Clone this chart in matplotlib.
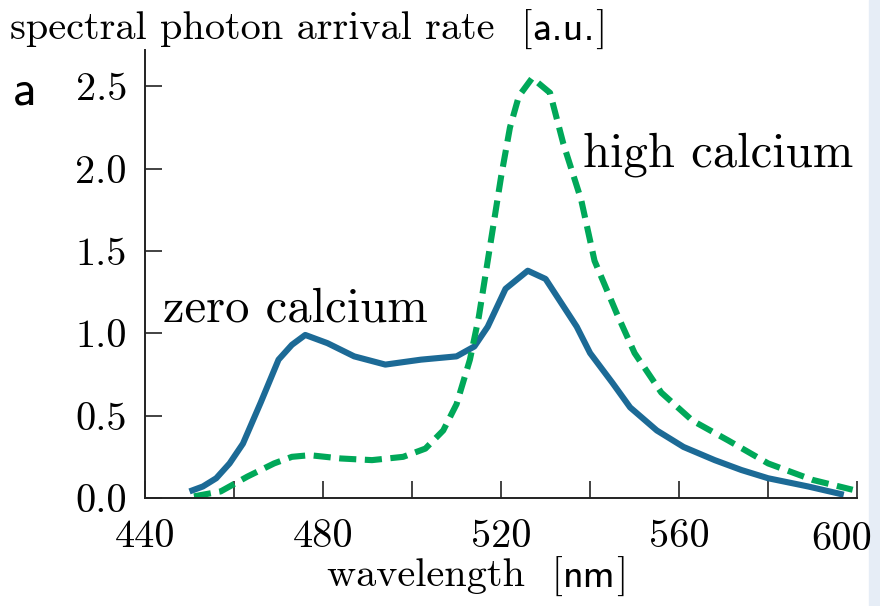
import matplotlib

matplotlib.use("Agg")
import matplotlib.pyplot as plt
from matplotlib.patches import Rectangle

# emission spectra, zero calcium (solid) and high calcium (dashed)
wl_zero = [450, 453, 456, 459, 462, 466, 470, 473, 476, 481, 487, 494, 502, 510,
           514, 517, 521, 526, 530, 537, 540, 545, 549, 555, 561, 568, 574, 580,
           589, 597]
rate_zero = [0.04, 0.07, 0.12, 0.21, 0.33, 0.58, 0.84, 0.93, 0.99, 0.94, 0.86,
             0.81, 0.84, 0.86, 0.92, 1.04, 1.27, 1.38, 1.33, 1.04, 0.88, 0.70,
             0.55, 0.41, 0.31, 0.23, 0.17, 0.12, 0.07, 0.02]

wl_high = [451, 457, 463, 469, 473, 477, 484, 491, 498, 503, 507, 510, 513, 515,
           517, 520, 522, 524, 527, 531, 534, 538, 541, 546, 550, 556, 563, 571,
           580, 590, 599]
rate_high = [0.01, 0.04, 0.13, 0.21, 0.25, 0.26, 0.24, 0.23, 0.25, 0.30, 0.41,
             0.57, 0.84, 1.10, 1.44, 1.95, 2.25, 2.44, 2.55, 2.46, 2.15, 1.81,
             1.44, 1.12, 0.88, 0.64, 0.47, 0.35, 0.21, 0.11, 0.05]

x_ticks = [440, 480, 520, 560, 600]
y_ticks = [0.0, 0.5, 1.0, 1.5, 2.0, 2.5]

plt.rcParams["font.family"] = "cmr10"
plt.rcParams["axes.formatter.use_mathtext"] = True


def chain_text(fig, x, y, parts, size):
    """Write (text, family) pieces one after another on a shared baseline."""
    renderer = fig.canvas.get_renderer()
    for s, fam in parts:
        t = fig.text(x, y, s, family=fam, fontsize=size, va="baseline")
        x = t.get_window_extent(renderer).x1 / fig.bbox.width


fig = plt.figure(figsize=(8.8, 6.06), dpi=100)
ax = fig.add_axes([0.1648, 0.1782, 0.8092, 0.7393])

ax.plot(wl_zero, rate_zero, color="#1c6a96", lw=4.4, solid_capstyle="butt",
        solid_joinstyle="round")
ax.plot(wl_high, rate_high, color="#00a859", lw=4.4, dashes=(2.8, 1.4))

ax.set_xlim(440, 600)
ax.set_ylim(0, 2.72)
ax.set_xticks(range(440, 601, 20))
# last label is nudged left separately so it stays inside the figure
ax.set_xticklabels([str(t) if t in x_ticks[:-1] else "" for t in range(440, 601, 20)])
ax.set_yticks(y_ticks)
ax.set_yticklabels([f"{v:.1f}" for v in y_ticks])

for side in ("top", "right"):
    ax.spines[side].set_visible(False)
for side in ("left", "bottom"):
    ax.spines[side].set_linewidth(1.4)
    ax.spines[side].set_color("#222222")
ax.tick_params(direction="in", length=12, width=1.2, color="#222222",
               labelsize=29)
ax.tick_params(axis="x", pad=15)
ax.tick_params(axis="y", pad=13)

ax.annotate(str(x_ticks[-1]), xy=(x_ticks[-1], 0), xycoords=ax.get_xaxis_transform(),
            xytext=(-15, -15 * 100 / 72 - 3), textcoords="offset pixels",
            ha="center", va="top", fontsize=29)

ax.text(444, 1.07, "zero calcium", fontsize=35, va="baseline")
ax.text(538.4, 2.01, "high calcium", fontsize=35, va="baseline")

chain_text(fig, 0.011, 0.934,
           [("spectral photon arrival rate  [", "cmr10"), ("a.u.", "cmss10"),
            ("]", "cmr10")], 29)
chain_text(fig, 0.372, 0.031,
           [("wavelength  [", "cmr10"), ("nm", "cmss10"), ("]", "cmr10")], 29)
fig.text(0.015, 0.827, "a", family="cmss10", fontsize=36, va="baseline")

# pale strip along the right margin
fig.add_artist(Rectangle((0.987, 0), 0.013, 1, transform=fig.transFigure,
                         color="#e6edf6", zorder=-1))

fig.savefig("out.png", dpi=100)
